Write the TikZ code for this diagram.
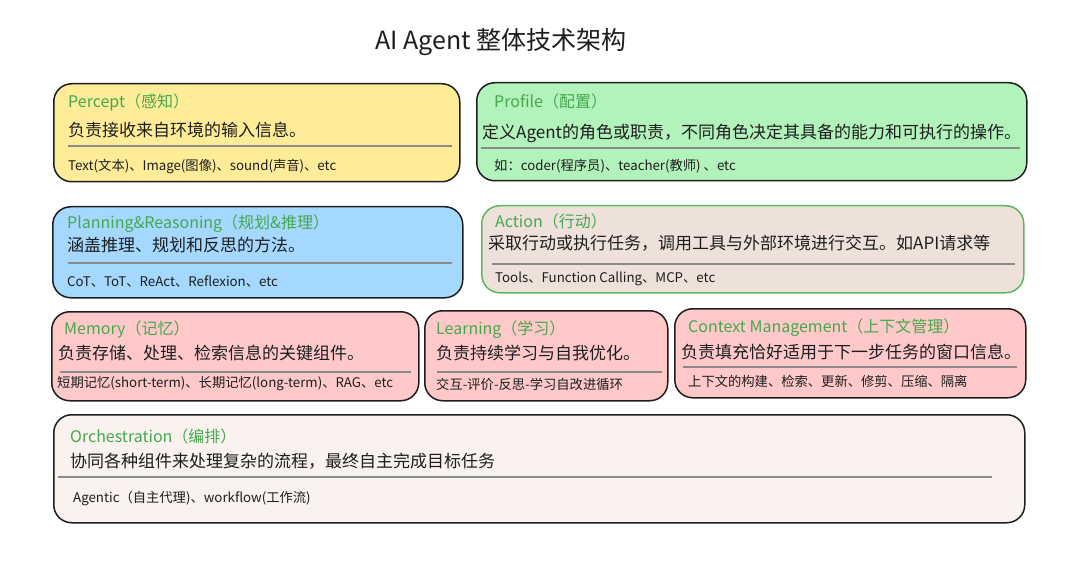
\documentclass[tikz,border=0pt]{standalone}
\usepackage{fontspec}
\setmainfont{Noto Sans CJK SC}
\definecolor{ink}{HTML}{1E1E1E}
\definecolor{ttlgreen}{HTML}{45A84F}
\definecolor{cyellow}{HTML}{FFEC99}
\definecolor{cgreen}{HTML}{B2F2BB}
\definecolor{cblue}{HTML}{A5D8FF}
\definecolor{cbronze}{HTML}{EEE1DA}
\definecolor{cpink}{HTML}{FFC9C9}
\definecolor{corch}{HTML}{F9F2EE}
\definecolor{borderg}{HTML}{5DB760}
\definecolor{divgray}{HTML}{8A8A8A}
\tikzset{
  box/.style={draw=ink, line width=1.5pt, rounded corners=18pt, anchor=north west, inner sep=0pt},
  ttl/.style={anchor=west, inner sep=0pt, text=ttlgreen, font=\fontsize{16}{19}\selectfont},
  mtxt/.style={anchor=west, inner sep=0pt, text=ink, font=\fontsize{17}{20}\selectfont},
  stxt/.style={anchor=west, inner sep=0pt, text=ink, font=\fontsize{13.3}{16}\selectfont},
  divider/.style={draw=divgray, line width=1.4pt},
}
\begin{document}
\begin{tikzpicture}[x=1pt,y=-1pt]
\useasboundingbox[fill=white] (0,0) rectangle (1080,583);
\node[anchor=center, inner sep=0pt, text=ink, font=\fontsize{25}{30}\selectfont] (title) at (501,42) {AI Agent 整体技术架构};

% Percept
\node[box, fill=cyellow, minimum width=406pt, minimum height=98pt] (percept) at (53,83) {};
\node[ttl] (percept-t) at (68,102) {Percept（感知）};
\node[mtxt] (percept-m) at (68,130) {负责接收来自环境的输入信息。};
\draw[divider] (68,146) -- (452,146);
\node[stxt] (percept-s) at (68,167) {Text(文本)、Image(图像)、sound(声音)、etc};

% Profile
\node[box, fill=cgreen, minimum width=550pt, minimum height=98pt] (profile) at (476,82) {};
\node[ttl] (profile-t) at (494,101) {Profile（配置）};
\node[mtxt] (profile-m) at (482,133) {定义Agent的角色或职责，不同角色决定其具备的能力和可执行的操作。};
\draw[divider] (481,148) -- (1020,148);
\node[stxt] (profile-s) at (494,166) {如：coder(程序员)、teacher(教师) 、etc};

% Planning
\node[box, fill=cblue, minimum width=410pt, minimum height=91pt] (plan) at (52,206) {};
\node[ttl] (plan-t) at (67,224) {Planning\&Reasoning（规划\&推理）};
\node[mtxt] (plan-m) at (67,245) {涵盖推理、规划和反思的方法。};
\draw[divider] (68,263) -- (452,263);
\node[stxt] (plan-s) at (67,281) {CoT、ToT、ReAct、Reflexion、etc};

% Action
\node[box, draw=borderg, fill=cbronze, minimum width=542pt, minimum height=87pt] (action) at (481,205) {};
\node[ttl] (action-t) at (495,221) {Action（行动）};
\node[mtxt] (action-m) at (488,243) {采取行动或执行任务，调用工具与外部环境进行交互。如API请求等};
\draw[divider] (492,264) -- (1015,264);
\node[stxt] (action-s) at (495,279) {Tools、Function Calling、MCP、etc};

% Memory
\node[box, fill=cpink, minimum width=367pt, minimum height=89pt] (memory) at (51,311) {};
\node[ttl] (memory-t) at (64,330) {Memory（记忆）};
\node[mtxt] (memory-m) at (58,353) {负责存储、处理、检索信息的关键组件。};
\draw[divider] (60,372) -- (411,372);
\node[stxt] (memory-s) at (57,384) {短期记忆(short-term)、长期记忆(long-term)、RAG、etc};

% Learning
\node[box, fill=cpink, minimum width=243pt, minimum height=90pt] (learn) at (424,310) {};
\node[ttl] (learn-t) at (436,330) {Learning（学习）};
\node[mtxt] (learn-m) at (436,353) {负责持续学习与自我优化。};
\draw[divider] (437,372) -- (662,372);
\node[stxt] (learn-s) at (436,384) {交互-评价-反思-学习自改进循环};

% Context
\node[box, fill=cpink, minimum width=351pt, minimum height=89pt] (context) at (674,308) {};
\node[ttl] (context-t) at (688,328) {Context Management（上下文管理）};
\node[mtxt] (context-m) at (681,352) {负责填充恰好适用于下一步任务的窗口信息。};
\draw[divider] (683,367) -- (1017,367);
\node[stxt] (context-s) at (688,381) {上下文的构建、检索、更新、修剪、压缩、隔离};

% Orchestration
\node[box, fill=corch, minimum width=971pt, minimum height=108pt] (orch) at (53,414) {};
\node[ttl] (orch-t) at (70,436) {Orchestration（编排）};
\node[mtxt] (orch-m) at (70,461) {协同各种组件来处理复杂的流程，最终自主完成目标任务};
\draw[divider] (58,477) -- (992,477);
\node[stxt] (orch-s) at (73,498) {Agentic（自主代理)、workflow(工作流)};
\end{tikzpicture}
\end{document}
